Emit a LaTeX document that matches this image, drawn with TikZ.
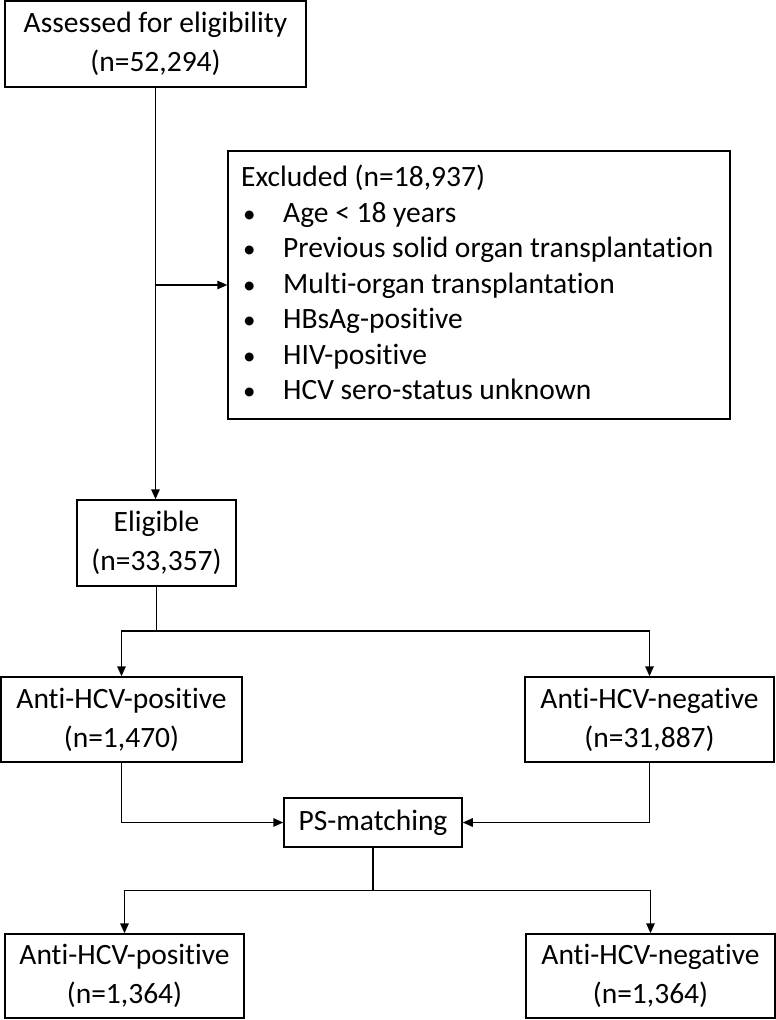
\documentclass[tikz,border=0pt]{standalone}
\usepackage{fontspec}
\setmainfont[RawFeature=-liga]{Carlito}
\usetikzlibrary{arrows.meta}
\newcommand{\blt}{\hspace*{2pt}\makebox[40pt][l]{\fontsize{25}{25}\selectfont\textbullet}}
\begin{document}
\begin{tikzpicture}[x=1pt,y=-1pt,
  box/.style={draw=black,line width=1.5pt,inner sep=0pt,align=center,
    font=\fontsize{29.5}{39}\selectfont},
  conn/.style={line width=1.5pt},
  arr/.style={conn,-{Triangle[length=10pt,width=8.5pt]}}]
\useasboundingbox (0,0) rectangle (776,1020);
\node[box,minimum width=301,minimum height=86] (A) at (155.5,44) {Assessed for eligibility\\(n=52,294)};
\node[box,minimum width=502,minimum height=268] (Ex) at (479,285) {};
\node[anchor=north west,inner sep=0pt,align=left,font=\fontsize{29.5}{35.5}\selectfont] (ExT) at (241,165)
 {Excluded (n=18,937)\\
  \blt Age < 18 years\\
  \blt Previous solid organ transplantation\\
  \blt Multi-organ transplantation\\
  \blt HBsAg-positive\\
  \blt HIV-positive\\
  \blt HCV sero-status unknown};
\node[box,minimum width=159,minimum height=86] (El) at (156.5,543) {Eligible\\(n=33,357)};
\node[box,minimum width=241,minimum height=85] (P1) at (121.5,719.5) {Anti-HCV-positive\\(n=1,470)};
\node[box,minimum width=249,minimum height=85] (N1) at (649.5,719.5) {Anti-HCV-negative\\(n=31,887)};
\node[box,minimum width=178,minimum height=49] (PS) at (373,822.5) {PS-matching};
\node[box,minimum width=239,minimum height=84] (P2) at (124.5,976) {Anti-HCV-positive\\(n=1,364)};
\node[box,minimum width=249,minimum height=84] (N2) at (650.5,976) {Anti-HCV-negative\\(n=1,364)};
\coordinate (b1) at (156.5,631);
\coordinate (b2) at (373,890.5);
\draw[arr] (A.south) -- (A.south |- El.north);
\draw[arr] (A.south |- Ex.west) -- (Ex.west);
\draw[conn] (El.south) -- (b1);
\draw[arr] (b1) -| (P1.north);
\draw[arr] (b1) -| (N1.north);
\draw[arr] (P1.south) |- (PS.west);
\draw[arr] (N1.south) |- (PS.east);
\draw[conn] (PS.south) -- (b2);
\draw[arr] (b2) -| (P2.north);
\draw[arr] (b2) -| (N2.north);
\end{tikzpicture}
\end{document}
